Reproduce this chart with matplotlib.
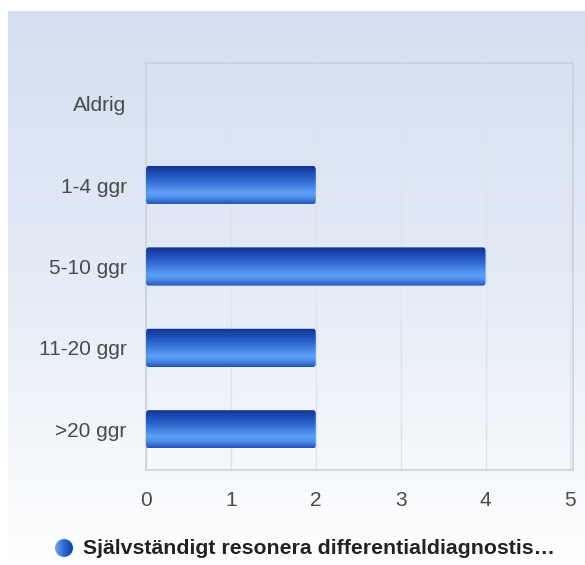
import numpy as np
import matplotlib.pyplot as plt
from matplotlib.patches import FancyBboxPatch, Circle
from matplotlib.colors import LinearSegmentedColormap

plt.rcParams['font.family'] = ['Liberation Sans', 'DejaVu Sans']

kategorier = ["Aldrig", "1-4 ggr", "5-10 ggr", "11-20 ggr", ">20 ggr"]
antal = [0, 2, 4, 2, 2]
xticks = [0, 1, 2, 3, 4, 5]
serie_namn = "Självständigt resonera differentialdiagnostis…"

W, H = 585, 565
fig = plt.figure(figsize=(W / 100, H / 100), dpi=100)

# bakgrund med gradient
bg = fig.add_axes([0, 0, 1, 1], zorder=0)
bg.set_xlim(0, W)
bg.set_ylim(H, 0)
bg.axis("off")
bg_cmap = LinearSegmentedColormap.from_list("bg", ["#d3dff0", "#e4ecf6", "#ffffff"])
grad = np.linspace(0, 1, 256).reshape(-1, 1)
bg.imshow(grad, cmap=bg_cmap, extent=[8, W, H, 11], aspect="auto")

# legend-cirkel
circ = Circle((64, 548), 9, transform=bg.transData, facecolor="none", edgecolor="none")
bg.add_patch(circ)
kul = np.linspace(0, 1, 64).reshape(1, -1)
im = bg.imshow(kul, cmap=LinearSegmentedColormap.from_list("k", ["#6aa8f5", "#2f6ad6", "#133d9a"]),
               extent=[55, 73, 557, 539], aspect="auto")
im.set_clip_path(circ)
bg.text(83, 548, serie_namn, fontsize=15.3, fontweight="bold", color="#222222",
        va="center", ha="left")

ax = fig.add_axes([146 / W, 1 - 470 / H, (573 - 146) / W, (470 - 63) / H], zorder=1)
ax.set_facecolor("none")
ax.set_xlim(0, 5.03)
ax.set_ylim(len(kategorier) - 0.5, -0.5)
ax.set_xticks(xticks)
ax.set_xticklabels([str(t) for t in xticks])
ax.set_yticks(range(len(kategorier)))
ax.set_yticklabels(kategorier)
ax.tick_params(axis="both", length=0, labelsize=15, labelcolor="#4a4a4a")
ax.tick_params(axis="x", pad=15)
ax.tick_params(axis="y", pad=14)
for s in ax.spines.values():
    s.set_color("#c9d1da")
    s.set_linewidth(1.2)
ax.grid(axis="x", color="#dde3ea", linewidth=1)
ax.set_axisbelow(True)

bar_cmap = LinearSegmentedColormap.from_list(
    "bar", [(0, "#0f3192"), (0.35, "#2a62cc"), (0.72, "#5ea0f6"), (0.85, "#4c8ae8"), (1, "#2454b8")])
bh = 0.47
for i, v in enumerate(antal):
    if v <= 0:
        continue
    patch = FancyBboxPatch((0, i - bh / 2), v, bh, boxstyle="round,pad=0,rounding_size=0.03",
                           mutation_aspect=1.6, facecolor="none", edgecolor="none", zorder=3)
    ax.add_patch(patch)
    g = ax.imshow(np.linspace(0, 1, 128).reshape(-1, 1), cmap=bar_cmap,
                  extent=[0, v, i + bh / 2, i - bh / 2], aspect="auto", zorder=3)
    g.set_clip_path(patch)

ax.set_xlim(0, 5.03)
ax.set_ylim(len(kategorier) - 0.5, -0.5)

fig.savefig("out.png", dpi=100)
